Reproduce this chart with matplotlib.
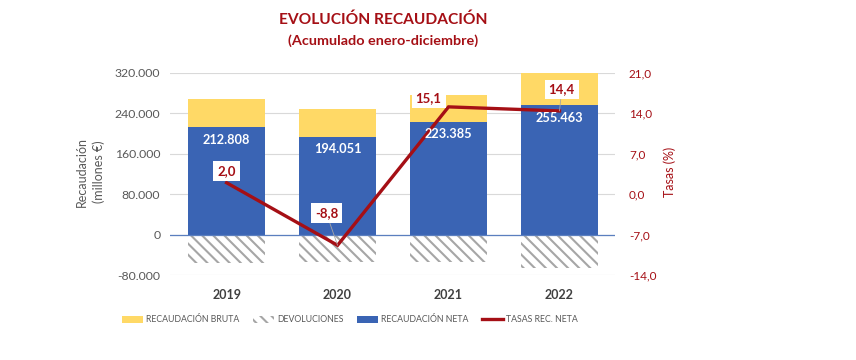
import matplotlib
matplotlib.use("Agg")
import matplotlib.pyplot as plt
from matplotlib.patches import Patch
from matplotlib.lines import Line2D
from matplotlib.ticker import FuncFormatter

plt.rcParams['font.family'] = ['Lato', 'DejaVu Sans']
plt.rcParams['hatch.linewidth'] = 1.5

years = ["2019", "2020", "2021", "2022"]
bruta = [267500, 248500, 276300, 321000]
neta = [212808, 194051, 223385, 255463]
devoluciones = [-(b - n) for b, n in zip(bruta, neta)]
tasas = [2.0, -8.8, 15.1, 14.4]
# where each rate label box sits (x in bar units, y in %)
tasa_label_x = [0.0, 0.90, 1.82, 3.02]
tasa_label_y = [4.0, -3.3, 16.6, 18.1]
tasa_leader = [False, True, False, True]

YELLOW = "#FFD966"
BLUE = "#3A64B4"
RED = "#A50F15"
GREY = "#595959"
HATCH_GREY = "#A6A6A6"

fig = plt.figure(figsize=(8.56, 3.6), dpi=100)
ax = fig.add_axes([170 / 856, 1 - 275.4 / 360, 445 / 856, 202.7 / 360])
x = list(range(len(years)))
w = 0.69

ax.bar(x, bruta, w, color=YELLOW, zorder=2)
ax.bar(x, neta, w, color=BLUE, zorder=3)
ax.bar(x, devoluciones, w, color="white", edgecolor=HATCH_GREY, hatch="\\\\\\",
       linewidth=0, zorder=2)

ax.set_ylim(-80000, 320000)
ax.set_xlim(-0.51, 3.5)
ax.set_yticks(range(-80000, 320001, 80000))
ax.yaxis.set_major_formatter(FuncFormatter(lambda v, p: f"{int(v):,}".replace(",", ".")))
ax.grid(axis="y", color="#D9D9D9", lw=0.8, zorder=0)
ax.set_axisbelow(True)
ax.axhline(0, color="#5B7FBF", lw=0.9, zorder=4)
for s in ax.spines.values():
    s.set_visible(False)
ax.tick_params(axis="y", length=0, colors=GREY, labelsize=8.8, pad=7)
ax.tick_params(axis="x", length=0, colors=GREY, pad=10)
ax.set_xticks(x)
ax.set_xticklabels(years, fontsize=9, fontweight="bold", color="#404040")
ax.set_ylabel("Recaudación\n(millones €)", color=GREY, fontsize=9, linespacing=1.4)
ax.yaxis.set_label_coords(-0.147, 0.51)

ax2 = ax.twinx()
ax2.plot(x, tasas, color=RED, lw=2.4, solid_joinstyle="miter", zorder=3)
ax2.set_ylim(-14, 21)
ax2.set_yticks([-14, -7, 0, 7, 14, 21])
ax2.yaxis.set_major_formatter(FuncFormatter(lambda v, p: f"{v:.1f}".replace(".", ",")))
for s in ax2.spines.values():
    s.set_visible(False)
ax2.tick_params(axis="y", length=0, colors=RED, labelsize=8.5, pad=10)
ax2.set_ylabel("Tasas (%)", color=RED, fontsize=9)
ax2.yaxis.set_label_coords(1.108, 0.51)

# net labels: drawn on the twin axes (above the line), positioned in bar-axis data units
for xi, n in zip(x, neta):
    ax2.annotate(f"{n:,}".replace(",", "."), (xi, n), xycoords=ax.transData,
                 xytext=(0, -9), textcoords="offset points",
                 ha="center", va="center", color="white", fontsize=9.2, fontweight="bold", zorder=5)

for xi, t, lx, ly, lead in zip(x, tasas, tasa_label_x, tasa_label_y, tasa_leader):
    ax2.annotate(f"{t:.1f}".replace(".", ","), (xi, t), xytext=(lx, ly), textcoords="data",
                 ha="center", va="center", color=RED, fontsize=9.5, fontweight="bold",
                 bbox=dict(boxstyle="square,pad=0.3", fc="white", ec="none"),
                 arrowprops=dict(arrowstyle="-", color="#A6A6A6", lw=0.6, shrinkA=0, shrinkB=0)
                 if lead else None, zorder=6)

fig.text(383 / 856, 1 - 20 / 360, "EVOLUCIÓN RECAUDACIÓN", ha="center", va="center",
         color=RED, fontsize=11.2, fontweight="bold")
fig.text(383 / 856, 1 - 41 / 360, "(Acumulado enero-diciembre)", ha="center", va="center",
         color=RED, fontsize=10.4, fontweight="bold")

handles = [Patch(facecolor=YELLOW, edgecolor="none"),
           Patch(facecolor="white", edgecolor=HATCH_GREY, hatch="\\\\\\", linewidth=0),
           Patch(facecolor=BLUE, edgecolor="none"),
           Line2D([], [], color=RED, lw=2.4)]
labels = ["RECAUDACIÓN BRUTA", "DEVOLUCIONES", "RECAUDACIÓN NETA", "TASAS REC. NETA"]
fig.legend(handles, labels, loc="center", bbox_to_anchor=(350 / 856, 1 - 320 / 360), ncol=4,
           frameon=False, fontsize=6.3, labelcolor=GREY, handlelength=2.4, handleheight=0.7,
           handletextpad=0.3, columnspacing=1.6)

fig.savefig("out.png", dpi=100)
